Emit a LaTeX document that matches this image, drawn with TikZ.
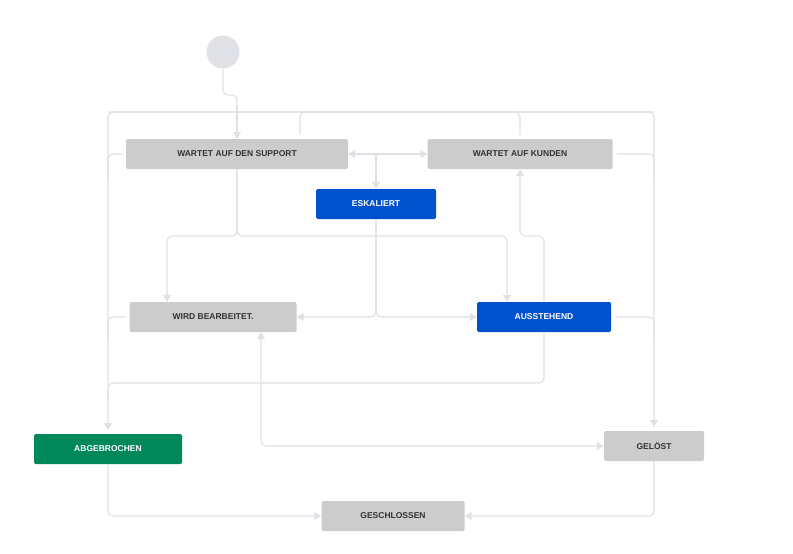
\documentclass[tikz,border=0pt]{standalone}
\usepackage{fontspec}
\setmainfont{Liberation Sans}
\usetikzlibrary{arrows.meta,positioning}
\definecolor{boxgray}{HTML}{CCCCCC}
\definecolor{jblue}{HTML}{0052CC}
\definecolor{jgreen}{HTML}{00875A}
\definecolor{linegray}{HTML}{DFE1E6}
\definecolor{txtgray}{HTML}{333333}
\tikzset{state/.style={rectangle,rounded corners=1.5pt,minimum height=30pt,inner sep=0pt,
  font=\fontsize{8.5}{10}\selectfont\bfseries},
  grey state/.style={state,fill=boxgray,text=txtgray},
  blue state/.style={state,fill=jblue,text=white},
  green state/.style={state,fill=jgreen,text=white},
  flow/.style={draw=linegray,line width=1.2pt,rounded corners=5pt},
  arr/.style={flow,-{Triangle[length=7pt,width=8pt]}}}
\begin{document}
\begin{tikzpicture}[x=1pt,y=-1pt]
\useasboundingbox (0,0) rectangle (793,554);

%States
 \node[circle,fill=linegray,minimum size=33pt,inner sep=0pt] (Start) at (223,52) {};
 \node[grey state,minimum width=222pt] (Support) at (237,154) {WARTET AUF DEN SUPPORT};
 \node[grey state,minimum width=185pt] (Kunden) at (520,154) {WARTET AUF KUNDEN};
 \node[blue state,minimum width=120pt] (Eskaliert) at (376,204) {ESKALIERT};
 \node[grey state,minimum width=167pt] (Bearbeitet) at (213,317) {WIRD BEARBEITET.};
 \node[blue state,minimum width=134pt] (Ausstehend) at (544,317) {AUSSTEHEND};
 \node[green state,minimum width=148pt] (Abgebrochen) at (108,449) {ABGEBROCHEN};
 \node[grey state,minimum width=100pt] (Geloest) at (654,446) {GELÖST};
 \node[grey state,minimum width=143pt] (Geschlossen) at (393,516) {GESCHLOSSEN};

%Global transitions
 \draw[flow] (300,135) |- (520,112) -- (520,135);
 \draw[arr] (654,112) -| (108,430);
 \draw[arr] (108,112) -| (654,427);
 \draw[flow] (122,154) -| (108,180);
 \draw[flow] (126,317) -| (108,340);
 \draw[flow] (617,154) -| (654,180);
 \draw[flow] (615,317) -| (654,340);

%Transitions
 \draw[flow] (Start.south) -- (223,95) -| (237,110);
 \draw[arr] (237,105) -- (Support.north);
 \draw[arr] (376,154) -- (Support.east);
 \draw[arr] (376,154) -- (Kunden.west);
 \draw[arr] (376,154) -- (Eskaliert.north);
 \draw[arr] (Support.south) |- (167,236) -- (Bearbeitet.north -| 167,0);
 \draw[arr] (Support.south) |- (507,236) -- (Ausstehend.north -| 507,0);
 \draw[arr] (Eskaliert.south) |- (Bearbeitet.east);
 \draw[arr] (Eskaliert.south) |- (Ausstehend.west);
 \draw[arr] (Ausstehend.north) |- (520,236) -- (Kunden.south);
 \draw[flow] (Ausstehend.south) |- (108,383) -- (108,400);
 \draw[arr,{Triangle[length=7pt,width=8pt]}-{Triangle[length=7pt,width=8pt]}] (Bearbeitet.south -| 261,0) |- (Geloest.west);
 \draw[arr] (Abgebrochen.south) |- (Geschlossen.west);
 \draw[arr] (Geloest.south) |- (Geschlossen.east);

\end{tikzpicture}
\end{document}
